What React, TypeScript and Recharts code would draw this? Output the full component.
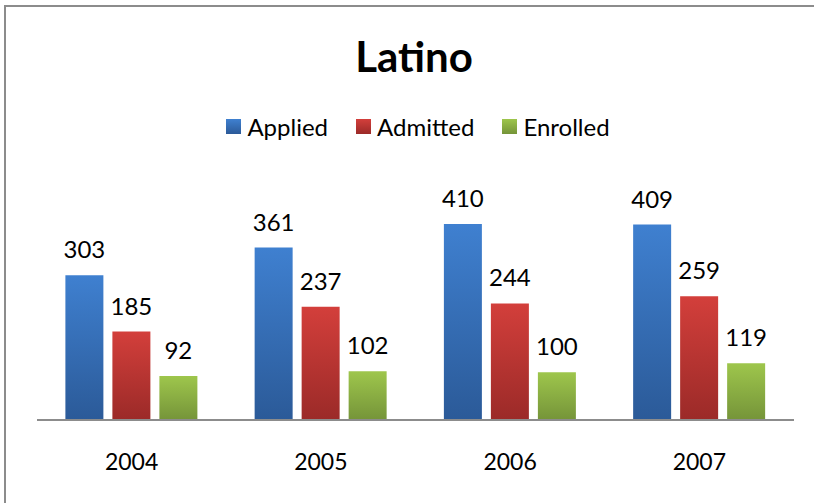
import { Bar, BarChart, LabelList, XAxis, YAxis } from 'recharts'

const years = ['2004', '2005', '2006', '2007']
const applied = [303, 361, 410, 409]
const admitted = [185, 237, 244, 259]
const enrolled = [92, 102, 100, 119]

const series = [
  { key: 'applied', name: 'Applied', top: '#3f80d0', bottom: '#2b5a98' },
  { key: 'admitted', name: 'Admitted', top: '#d33f3b', bottom: '#9b2a28' },
  { key: 'enrolled', name: 'Enrolled', top: '#9ec64c', bottom: '#759439' },
]

const data = years.map((year, i) => ({
  year,
  applied: applied[i],
  admitted: admitted[i],
  enrolled: enrolled[i],
}))

const font = 'Lato, "Open Sans", sans-serif'

export default function App() {
  return (
    <div
      style={{
        position: 'fixed',
        left: 0,
        top: 0,
        width: 814,
        height: 503,
        background: '#fff',
        fontFamily: font,
        overflow: 'hidden',
      }}
    >
      {/* chart frame, cut off at right and bottom like the source image */}
      <div
        style={{
          position: 'absolute',
          left: 4,
          top: 5,
          width: 830,
          height: 520,
          border: '2px solid #8c8c8c',
        }}
      />
      <div
        style={{
          position: 'absolute',
          left: 0,
          width: 828,
          top: 31,
          textAlign: 'center',
          fontSize: 42,
          fontWeight: 700,
          color: '#000',
        }}
      >
        Latino
      </div>
      <div
        style={{
          position: 'absolute',
          left: 0,
          width: 836,
          top: 112,
          display: 'flex',
          justifyContent: 'center',
          gap: 28,
          fontSize: 24,
          color: '#000',
        }}
      >
        {series.map((s) => (
          <div key={s.key} style={{ display: 'flex', alignItems: 'center' }}>
            <span
              style={{
                display: 'inline-block',
                width: 15,
                height: 15,
                marginRight: 6,
                background: `linear-gradient(${s.top}, ${s.bottom})`,
              }}
            />
            {s.name}
          </div>
        ))}
      </div>
      <BarChart
        width={814}
        height={503}
        data={data}
        margin={{ top: 205, right: 20, left: 37, bottom: 53 }}
        barCategoryGap="15%"
        barGap={9}
        style={{ position: 'absolute', left: 0, top: 0 }}
      >
        <defs>
          {series.map((s) => (
            <linearGradient key={s.key} id={`g-${s.key}`} x1="0" y1="0" x2="0" y2="1">
              <stop offset="0%" stopColor={s.top} />
              <stop offset="100%" stopColor={s.bottom} />
            </linearGradient>
          ))}
        </defs>
        <XAxis
          dataKey="year"
          height={30}
          axisLine={{ stroke: '#8c8c8c', strokeWidth: 2 }}
          tickLine={false}
          tickMargin={28}
          tick={{ fill: '#000', fontSize: 23, fontFamily: font }}
        />
        <YAxis hide domain={[0, 450]} />
        {series.map((s) => (
          <Bar
            key={s.key}
            dataKey={s.key}
            name={s.name}
            fill={`url(#g-${s.key})`}
            isAnimationActive={false}
          >
            <LabelList
              dataKey={s.key}
              position="top"
              offset={17}
              style={{ fill: '#000', fontSize: 24, fontFamily: font }}
            />
          </Bar>
        ))}
      </BarChart>
    </div>
  )
}
